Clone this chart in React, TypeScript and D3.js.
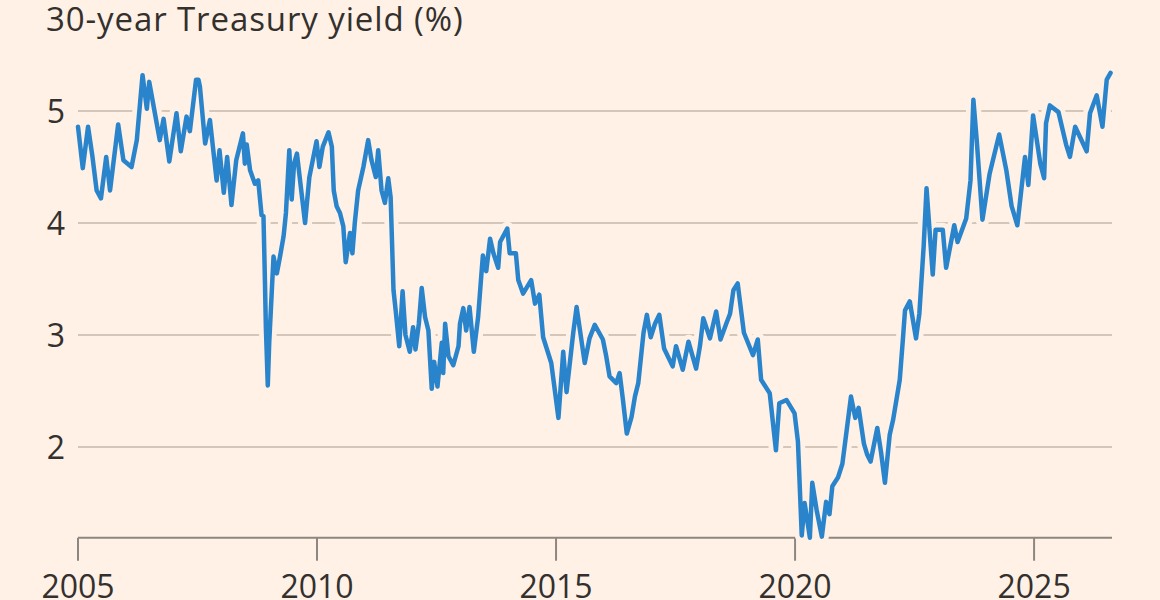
import React from "react";
import * as d3 from "d3";

// decimal years, with the matching 30-year yields (%)
const years: number[] = [
  2005.0, 2005.1, 2005.21, 2005.3, 2005.39, 2005.48, 2005.59, 2005.67, 2005.84, 2005.95,
  2006.12, 2006.23, 2006.35, 2006.44, 2006.49, 2006.6, 2006.71, 2006.79, 2006.91,
  2007.06, 2007.15, 2007.27, 2007.34, 2007.47, 2007.52, 2007.55, 2007.66, 2007.76, 2007.9, 2007.96,
  2008.05, 2008.12, 2008.21, 2008.31, 2008.45, 2008.49, 2008.53, 2008.6, 2008.7, 2008.77, 2008.84,
  2008.88, 2008.91, 2008.93, 2008.97,
  2009.0, 2009.09, 2009.16, 2009.23, 2009.3, 2009.35, 2009.42, 2009.47, 2009.52, 2009.58, 2009.67,
  2009.75, 2009.84, 2009.99,
  2010.05, 2010.12, 2010.24, 2010.31, 2010.35, 2010.41, 2010.48, 2010.55, 2010.6, 2010.69, 2010.74,
  2010.79, 2010.86, 2010.97,
  2011.07, 2011.14, 2011.23, 2011.28, 2011.35, 2011.42, 2011.49, 2011.54, 2011.6, 2011.65, 2011.72,
  2011.79, 2011.85, 2011.94,
  2012.01, 2012.06, 2012.13, 2012.19, 2012.26, 2012.33, 2012.4, 2012.45, 2012.52, 2012.61, 2012.64,
  2012.68, 2012.75, 2012.85, 2012.96, 2012.99,
  2013.06, 2013.12, 2013.19, 2013.28, 2013.37, 2013.44, 2013.47, 2013.54, 2013.62, 2013.69, 2013.79,
  2013.83, 2013.98,
  2014.03, 2014.16, 2014.21, 2014.31, 2014.48, 2014.56, 2014.65, 2014.73, 2014.9,
  2015.05, 2015.15, 2015.22, 2015.36, 2015.43, 2015.6, 2015.7, 2015.81, 2015.98,
  2016.05, 2016.12, 2016.26, 2016.33, 2016.4, 2016.48, 2016.58, 2016.65, 2016.72, 2016.83, 2016.9,
  2016.98,
  2017.07, 2017.16, 2017.26, 2017.44, 2017.51, 2017.65, 2017.77, 2017.93,
  2018.01, 2018.08, 2018.22, 2018.35, 2018.44, 2018.56, 2018.64, 2018.71, 2018.8, 2018.93,
  2019.12, 2019.22, 2019.29, 2019.47, 2019.6, 2019.67, 2019.82, 2019.99,
  2020.06, 2020.14, 2020.2, 2020.31, 2020.36, 2020.45, 2020.56, 2020.65, 2020.72, 2020.78, 2020.9,
  2020.99,
  2021.17, 2021.26, 2021.33, 2021.44, 2021.51, 2021.58, 2021.72, 2021.8, 2021.88, 2021.98,
  2022.05, 2022.19, 2022.25, 2022.3, 2022.4, 2022.53, 2022.6, 2022.69, 2022.75, 2022.88, 2022.94,
  2023.09, 2023.16, 2023.33, 2023.4, 2023.58, 2023.67, 2023.73, 2023.8, 2023.92,
  2024.07, 2024.27, 2024.42, 2024.53, 2024.65, 2024.81, 2024.88, 2024.98,
  2025.13, 2025.21, 2025.25, 2025.33, 2025.51, 2025.67, 2025.75, 2025.86,
  2026.1, 2026.17, 2026.31, 2026.43, 2026.52, 2026.6,
];

const yields: number[] = [
  4.86, 4.49, 4.86, 4.6, 4.29, 4.22, 4.59, 4.29, 4.88, 4.56,
  4.5, 4.74, 5.32, 5.02, 5.26, 5.0, 4.74, 4.93, 4.55,
  4.98, 4.64, 4.95, 4.82, 5.28, 5.28, 5.22, 4.71, 4.92, 4.38, 4.65,
  4.27, 4.59, 4.16, 4.56, 4.8, 4.53, 4.7, 4.47, 4.35, 4.38, 4.07,
  4.06, 3.49, 3.07, 2.55,
  2.93, 3.7, 3.55, 3.71, 3.88, 4.09, 4.65, 4.21, 4.53, 4.62, 4.29,
  4.0, 4.41, 4.73,
  4.5, 4.68, 4.81, 4.68, 4.29, 4.15, 4.09, 3.97, 3.65, 3.91, 3.73,
  4.0, 4.29, 4.5,
  4.74, 4.56, 4.41, 4.65, 4.29, 4.18, 4.4, 4.23, 3.4, 3.2, 2.9,
  3.39, 3.0, 2.85,
  3.07, 2.87, 3.1, 3.42, 3.16, 3.04, 2.52, 2.76, 2.54, 2.93, 2.66,
  3.1, 2.81, 2.73, 2.9, 3.1,
  3.24, 3.04, 3.25, 2.85, 3.16, 3.55, 3.71, 3.57, 3.86, 3.73, 3.6,
  3.83, 3.95,
  3.73, 3.73, 3.49, 3.37, 3.49, 3.28, 3.36, 2.98, 2.75,
  2.26, 2.85, 2.49, 3.02, 3.25, 2.75, 2.97, 3.09, 2.96,
  2.81, 2.63, 2.57, 2.66, 2.42, 2.12, 2.27, 2.45, 2.57, 3.02, 3.18,
  2.98,
  3.1, 3.18, 2.88, 2.72, 2.9, 2.69, 2.94, 2.7,
  2.9, 3.15, 2.97, 3.21, 2.96, 3.1, 3.19, 3.4, 3.46, 3.02,
  2.82, 2.96, 2.6, 2.48, 1.97, 2.39, 2.42, 2.3,
  2.05, 1.21, 1.5, 1.19, 1.68, 1.44, 1.2, 1.51, 1.4, 1.65, 1.73,
  1.85,
  2.45, 2.26, 2.35, 2.03, 1.93, 1.87, 2.17, 1.95, 1.68, 2.11,
  2.24, 2.6, 2.93, 3.22, 3.3, 2.97, 3.19, 3.79, 4.31, 3.54, 3.94,
  3.94, 3.6, 3.98, 3.83, 4.04, 4.38, 5.1, 4.74, 4.03,
  4.44, 4.79, 4.47, 4.15, 3.98, 4.59, 4.34, 4.96,
  4.53, 4.4, 4.89, 5.05, 4.99, 4.7, 4.59, 4.86,
  4.64, 4.98, 5.14, 4.86, 5.28, 5.34,
];

const yTicks: number[] = [2, 3, 4, 5];
const xTicks: number[] = [2005, 2010, 2015, 2020, 2025];
const title = "30-year Treasury yield (%)";

const W = 1160;
const H = 600;
const BG = "#fff1e5";
const FONT = "'Open Sans', 'Noto Sans', sans-serif";

interface Point {
  year: number;
  value: number;
}

const App: React.FC = () => {
  const data: Point[] = years.map((y, i) => ({ year: y, value: yields[i] }));

  const margin = { top: 111, right: 48, bottom: 62, left: 78 };

  const xScale = d3
    .scaleLinear()
    .domain([2005, 2026.63])
    .range([margin.left, W - margin.right]);

  // 5 sits at y=111, 2 at y=447
  const yScale = d3.scaleLinear().domain([5, 2]).range([111, 447]);
  const axisY = yScale(1.19);

  const line = d3
    .line<Point>()
    .x((d) => xScale(d.year))
    .y((d) => yScale(d.value))
    .curve(d3.curveLinear);

  const path = line(data) || "";

  return (
    <svg
      width={W}
      height={H}
      style={{ position: "absolute", left: 0, top: 0, background: BG }}
      fontFamily={FONT}
    >
      <rect width={W} height={H} fill={BG} />
      <text x={46} y={31} fontSize={33} letterSpacing={0.9} fill="#33302e">
        {title}
      </text>

      {/* gridlines + y labels */}
      {yTicks.map((t) => (
        <g key={t}>
          <line
            x1={xScale.range()[0]}
            x2={xScale.range()[1]}
            y1={yScale(t)}
            y2={yScale(t)}
            stroke="#d4c6b8"
            strokeWidth={2}
          />
          <text
            x={65}
            y={yScale(t)}
            dy="0.36em"
            textAnchor="end"
            fontSize={32}
            fill="#33302e"
          >
            {t}
          </text>
        </g>
      ))}

      {/* x axis */}
      <line
        x1={xScale.range()[0]}
        x2={xScale.range()[1]}
        y1={axisY}
        y2={axisY}
        stroke="#8e8680"
        strokeWidth={2}
      />
      {xTicks.map((t) => (
        <g key={t}>
          <line
            x1={xScale(t)}
            x2={xScale(t)}
            y1={axisY}
            y2={axisY + 23}
            stroke="#8e8680"
            strokeWidth={2}
          />
          <text
            x={xScale(t)}
            y={598}
            textAnchor="middle"
            fontSize={32}
            fill="#33302e"
          >
            {t}
          </text>
        </g>
      ))}

      {/* halo then line */}
      <path
        d={path}
        fill="none"
        stroke={BG}
        strokeWidth={14}
        strokeLinejoin="round"
        strokeLinecap="round"
      />
      <path
        d={path}
        fill="none"
        stroke="#2a84cc"
        strokeWidth={4.5}
        strokeLinejoin="round"
        strokeLinecap="round"
      />
    </svg>
  );
};

export default App;
